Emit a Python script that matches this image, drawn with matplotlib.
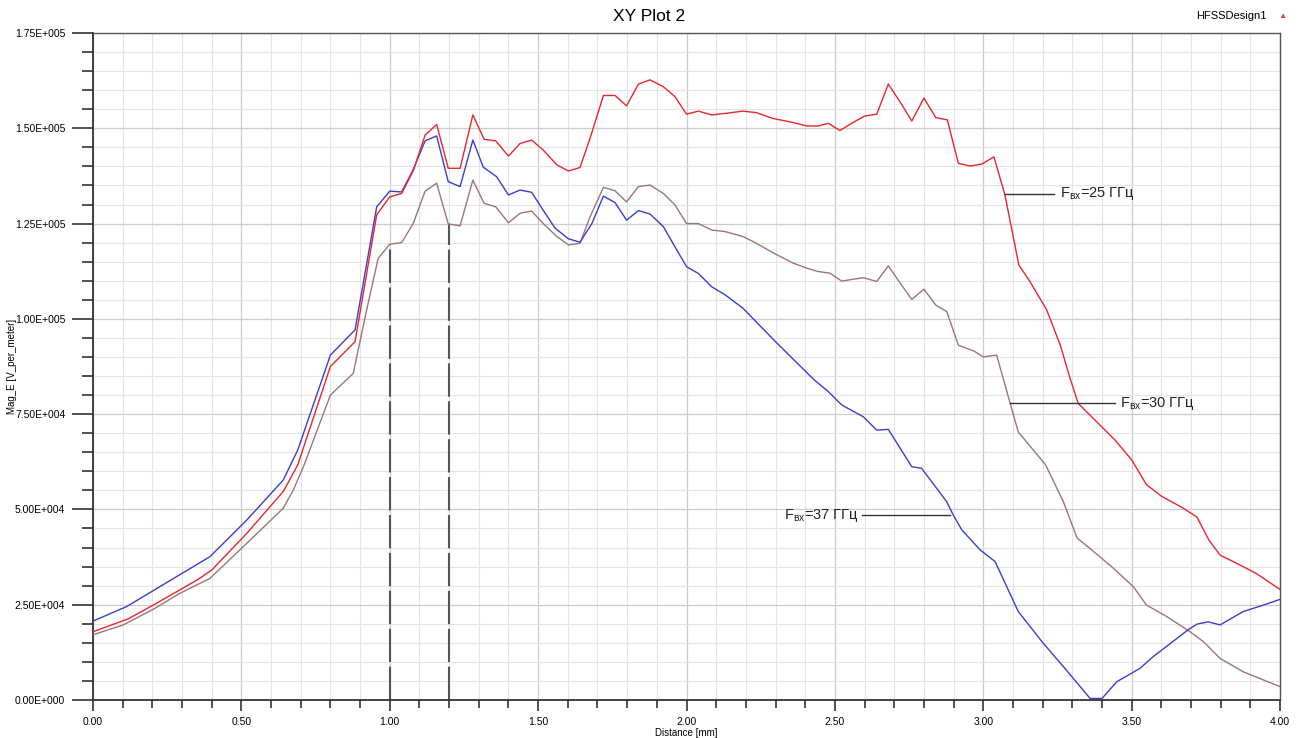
import numpy as np
import matplotlib
matplotlib.use("Agg")
import matplotlib.pyplot as plt
from matplotlib.ticker import MultipleLocator, FuncFormatter

plt.rcParams['font.family'] = ['Liberation Sans', 'DejaVu Sans']

# 37 GHz (blue)
x37 = [0.0, 0.113, 0.394, 0.518, 0.641, 0.69, 0.80, 0.883, 0.956, 1.0, 1.04, 1.078, 1.119, 1.158,
       1.197, 1.237, 1.28, 1.315, 1.36, 1.40, 1.439, 1.478, 1.517, 1.557, 1.602, 1.641, 1.681,
       1.72, 1.759, 1.798, 1.838, 1.877, 1.922, 1.961, 2.0, 2.04, 2.085, 2.13, 2.19, 2.30, 2.43,
       2.478, 2.523, 2.596, 2.641, 2.68, 2.759, 2.792, 2.877, 2.899, 2.928, 2.989, 3.04, 3.118,
       3.202, 3.275, 3.36, 3.40, 3.45, 3.528, 3.573, 3.69, 3.72, 3.758, 3.798, 3.876, 3.944, 4.0]
y37 = [20.7, 24.5, 37.6, 47.2, 57.7, 65.6, 90.5, 97.1, 129.4, 133.5, 133.3, 139.0, 146.7, 148.0,
       136.0, 134.7, 146.9, 139.8, 137.3, 132.5, 133.8, 133.2, 128.5, 123.8, 121.0, 120.1, 125.0,
       132.2, 130.5, 125.9, 128.4, 127.5, 124.2, 118.9, 113.7, 111.9, 108.4, 106.3, 102.8, 94.0, 84.0,
       80.9, 77.4, 74.3, 70.8, 71.0, 61.2, 60.8, 52.0, 48.5, 44.6, 39.4, 36.3, 23.2,
       14.9, 8.3, 0.4, 0.4, 4.8, 8.3, 11.4, 18.4, 19.9, 20.5, 19.7, 23.2, 24.9, 26.4]

# 25 GHz (red)
x25 = [0.0, 0.119, 0.203, 0.293, 0.355, 0.40, 0.518, 0.641, 0.69, 0.80, 0.883, 0.956, 1.0, 1.04,
       1.08, 1.119, 1.158, 1.197, 1.237, 1.28, 1.318, 1.357, 1.40, 1.439, 1.478, 1.517, 1.563,
       1.602, 1.641, 1.675, 1.72, 1.759, 1.798, 1.838, 1.877, 1.922, 1.961, 2.0, 2.04, 2.085, 2.13,
       2.19, 2.236, 2.29, 2.36, 2.405, 2.444, 2.478, 2.517, 2.556, 2.60, 2.641, 2.68, 2.719, 2.759,
       2.80, 2.84, 2.879, 2.916, 2.955, 2.995, 3.036, 3.073, 3.12, 3.158, 3.214, 3.26, 3.29, 3.32,
       3.444, 3.50, 3.55, 3.60, 3.67, 3.72, 3.76, 3.798, 3.843, 3.92, 4.0]
y25 = [17.9, 21.3, 24.9, 28.9, 31.7, 34.1, 43.7, 54.7, 61.7, 87.5, 94.0, 127.3, 132.0, 132.9,
       139.0, 148.2, 151.0, 139.5, 139.5, 153.5, 147.1, 146.7, 142.7, 146.0, 146.9, 144.3, 140.4,
       138.8, 139.7, 147.4, 158.6, 158.6, 155.9, 161.6, 162.7, 160.9, 158.3, 153.7, 154.5, 153.5, 153.9,
       154.5, 154.1, 152.6, 151.5, 150.6, 150.6, 151.3, 149.4, 151.3, 153.2, 153.7, 161.6, 157.0, 151.9,
       157.9, 152.8, 152.2, 140.8, 140.1, 140.6, 142.5, 132.5, 114.1, 109.7, 102.3, 93.0, 85.0, 77.8,
       68.2, 63.0, 56.5, 53.5, 50.5, 48.0, 42.0, 38.0, 36.3, 33.2, 29.0]

# 30 GHz (brown)
x30 = [0.0, 0.102, 0.203, 0.293, 0.35, 0.394, 0.518, 0.641, 0.675, 0.709, 0.80, 0.877, 0.922,
       0.961, 1.0, 1.04, 1.079, 1.119, 1.158, 1.197, 1.237, 1.28, 1.318, 1.357, 1.40, 1.439, 1.478,
       1.517, 1.563, 1.602, 1.641, 1.675, 1.72, 1.759, 1.798, 1.838, 1.877, 1.922, 1.961, 2.0, 2.04,
       2.085, 2.13, 2.19, 2.236, 2.29, 2.36, 2.405, 2.444, 2.483, 2.523, 2.562, 2.596, 2.641, 2.68,
       2.719, 2.759, 2.80, 2.84, 2.877, 2.916, 2.97, 3.0, 3.045, 3.09, 3.118, 3.21, 3.27, 3.316,
       3.365, 3.438, 3.506, 3.55, 3.618, 3.697, 3.742, 3.798, 3.876, 4.0]
y30 = [17.1, 19.7, 23.8, 28.0, 30.2, 31.9, 41.1, 50.3, 55.1, 61.2, 80.0, 85.7, 102.3,
       115.9, 119.6, 120.0, 125.0, 133.5, 135.6, 124.9, 124.4, 136.4, 130.3, 129.4, 125.2, 127.7, 128.3,
       125.0, 121.6, 119.4, 119.8, 126.8, 134.5, 133.6, 130.7, 134.7, 135.1, 132.9, 129.9, 125.0, 125.0,
       123.3, 122.9, 121.6, 119.8, 117.4, 114.6, 113.3, 112.4, 112.0, 109.9, 110.4, 110.8, 109.8, 113.9,
       109.5, 105.1, 107.8, 103.6, 101.9, 93.1, 91.5, 90.0, 90.5, 78.0, 70.3, 61.7, 52.0, 42.5,
       39.4, 34.6, 29.7, 24.9, 21.9, 17.9, 15.3, 10.9, 7.4, 3.5]

labels = ['25', '30', '37']


def efmt(v, pos):
    if v == 0:
        return '0.00E+000'
    e = int(np.floor(np.log10(abs(v))))
    return f'{v / 10**e:.2f}E+{e:03d}'


fig = plt.figure(figsize=(12.99, 7.38), dpi=100)
ax = fig.add_axes([0.0716, 0.0515, 0.9138, 0.9038])

ax.plot(x30, np.array(y30) * 1e3, color='#9c7676', lw=1.0, zorder=3)
ax.plot(x37, np.array(y37) * 1e3, color='#3c3cd2', lw=1.0, zorder=4)
ax.plot(x25, np.array(y25) * 1e3, color='#e8262e', lw=1.0, zorder=5)

# dashed markers at 1.0 and 1.2 mm
ax.plot([1.0, 1.0], [0, 119.6e3], color='#555555', lw=1.5, ls=(0, (16, 2.2)), zorder=2)
ax.plot([1.2, 1.2], [0, 124.9e3], color='#555555', lw=1.5, ls=(0, (16, 2.2)), zorder=2)

ax.set_xlim(0, 4)
ax.set_ylim(0, 175000)
ax.xaxis.set_major_locator(MultipleLocator(0.5))
ax.xaxis.set_minor_locator(MultipleLocator(0.1))
ax.yaxis.set_major_locator(MultipleLocator(25000))
ax.yaxis.set_minor_locator(MultipleLocator(5000))
ax.xaxis.set_major_formatter(FuncFormatter(lambda v, p: f'{v:.2f}'))
ax.yaxis.set_major_formatter(FuncFormatter(efmt))

ax.grid(which='major', color='#cccccc', lw=0.9)
ax.grid(which='minor', color='#e4e4e4', lw=0.8)
ax.set_axisbelow(True)

ax.tick_params(axis='y', which='major', length=15, width=1.2, color='#333333',
               labelsize=7.5, pad=5)
ax.tick_params(axis='y', which='minor', length=8, width=1.2, color='#333333')
ax.tick_params(axis='x', which='major', length=8, width=1.2, color='#333333',
               labelsize=7.5, pad=4)
ax.tick_params(axis='x', which='minor', length=6, width=1.2, color='#333333')

for s in ['left', 'bottom']:
    ax.spines[s].set_color('#333333')
    ax.spines[s].set_linewidth(1.3)
for s in ['top', 'right']:
    ax.spines[s].set_color('#555555')
    ax.spines[s].set_linewidth(1.0)

ax.set_xlabel('Distance [mm]', fontsize=7, labelpad=1)
ax.set_ylabel('Mag_E [V_per_meter]', fontsize=7)
ax.yaxis.set_label_coords(-0.064, 0.5)

fig.text(0.5, 0.978, 'XY Plot 2', ha='center', va='center', fontsize=12.5)
fig.text(0.975, 0.978, 'HFSSDesign1', ha='right', va='center', fontsize=8)
fig.text(0.987, 0.978, '\u25b2', ha='center', va='center', fontsize=6, color='#c05050')

# annotations
ann = [
    (labels[0], (3.073, 132.8e3), (3.24, 132.8e3), 'left'),
    (labels[1], (3.09, 77.9e3), (3.444, 77.9e3), 'left'),
    (labels[2], (2.888, 48.5e3), (2.591, 48.5e3), 'right'),
]
for lab, p0, p1, side in ann:
    ax.plot([p0[0], p1[0]], [p0[1], p1[1]], color='#333333', lw=1.0, zorder=6)
    tx = p1[0] + 0.018 if side == 'left' else p1[0] - 0.012
    ax.text(tx, p1[1], r'F$_\mathregular{вх}$=' + lab + ' ГГц', ha=side, va='center',
            fontsize=10.5, color='#222222', zorder=7)

fig.savefig('out.png', dpi=100)
